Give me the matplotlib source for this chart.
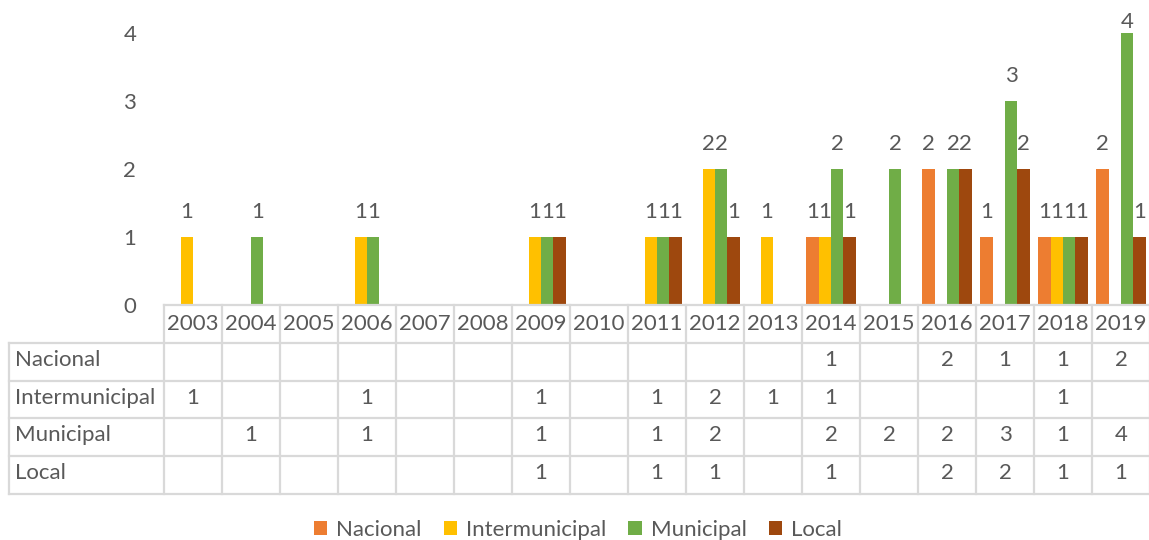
import numpy as np
import matplotlib.pyplot as plt
from matplotlib.patches import Patch

plt.rcParams['font.family'] = ['Lato', 'DejaVu Sans']

years = [str(y) for y in range(2003, 2020)]
series = ["Nacional", "Intermunicipal", "Municipal", "Local"]
nan = np.nan
nacional = [nan, nan, nan, nan, nan, nan, nan, nan, nan, nan, nan, 1, nan, 2, 1, 1, 2]
intermunicipal = [1, nan, nan, 1, nan, nan, 1, nan, 1, 2, 1, 1, nan, nan, nan, 1, nan]
municipal = [nan, 1, nan, 1, nan, nan, 1, nan, 1, 2, nan, 2, 2, 2, 3, 1, 4]
local = [nan, nan, nan, nan, nan, nan, 1, nan, 1, 1, nan, 1, nan, 2, 2, 1, 1]
values = [nacional, intermunicipal, municipal, local]
colors = ["#ED7D31", "#FFC000", "#70AD47", "#9E480E"]

text_color = "#595959"
grid_color = "#D9D9D9"
fs = 16

W, H = 1149, 540
fig = plt.figure(figsize=(W / 100, H / 100), dpi=100)

x0, x1 = 164 / W, 1150 / W
ax = fig.add_axes([x0, 1 - 305 / H, x1 - x0, (305 - 33) / H])
x = np.arange(len(years))
w = 0.213
for i, (name, vals, c) in enumerate(zip(series, values, colors)):
    pos = x + (i - 1.5) * w
    ax.bar(pos, vals, width=w, color=c, label=name)
    for px, v in zip(pos, vals):
        if not np.isnan(v):
            # labels sit above the bar, but are kept inside the top of the chart
            ly = min(v + 0.37, 4.16)
            ax.text(px, ly, f"{v:g}", ha="center", va="center", fontsize=fs,
                    color=text_color, clip_on=False)
ax.set_xlim(-0.5, len(years) - 0.5)
ax.set_ylim(0, 4)
ax.set_yticks([0, 1, 2, 3, 4])
ax.tick_params(axis="y", length=0, pad=20, labelsize=fs, labelcolor=text_color)
ax.set_xticks([])
for s in ax.spines.values():
    s.set_visible(False)

# data table under the bars
tax = fig.add_axes([x0, 1 - 494 / H, x1 - x0, (494 - 305) / H])
tax.set_xlim(-0.5, len(years) - 0.5)
tax.set_ylim(5, 0)
tax.axis("off")
left = -0.5 - (164 - 9) / 58
lk = dict(color=grid_color, lw=1.6, clip_on=False)
tax.plot([-0.5, len(years) - 0.5], [0, 0], **lk)
for r in range(1, 6):
    tax.plot([left, len(years) - 0.5], [r, r], **lk)
tax.plot([left, left], [1, 5], **lk)
for k in range(len(years) + 1):
    tax.plot([k - 0.5, k - 0.5], [0, 5], **lk)
for k, yr in enumerate(years):
    tax.text(k, 0.5, yr, ha="center", va="center", fontsize=fs, color=text_color)
for r, (name, vals) in enumerate(zip(series, values), start=1):
    tax.text(left + 0.1, r + 0.45, name, ha="left", va="center", fontsize=fs, color=text_color)
    for k, v in enumerate(vals):
        if not np.isnan(v):
            tax.text(k, r + 0.45, f"{v:g}", ha="center", va="center", fontsize=fs, color=text_color)

handles = [Patch(facecolor=c, edgecolor="none") for c in colors]
fig.legend(handles, series, loc="center", bbox_to_anchor=(0.503, 1 - 530 / H), ncol=4,
           frameon=False, fontsize=fs, labelcolor=text_color, handlelength=0.6,
           handleheight=0.6, handletextpad=0.4, columnspacing=1.0)

fig.savefig("out.png", dpi=100)
